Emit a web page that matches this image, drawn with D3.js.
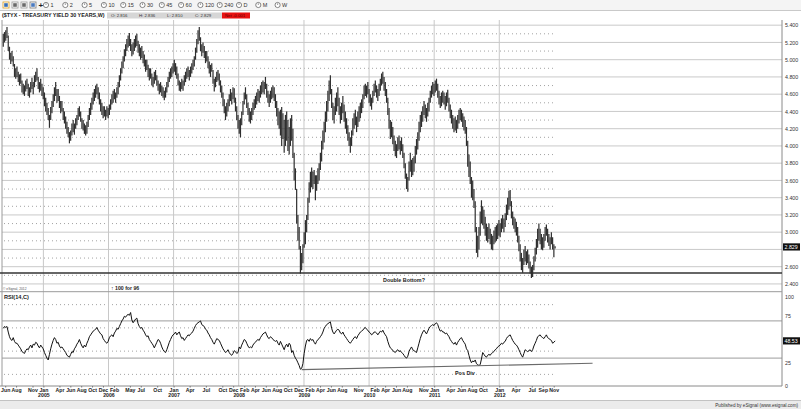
<!DOCTYPE html>
<html><head><meta charset="utf-8">
<script src="https://cdn.jsdelivr.net/npm/d3@7"></script>
<style>body{margin:0;background:#fff}svg{display:block}text{font-family:"Liberation Sans",Arial,sans-serif}</style>
</head><body><svg id="c" width="801" height="409"></svg>
<script>
// ---------------- DATA ----------------
const firstWeek = "2004-05-21";
const weekLow = [
5.15,5.20,5.22,5.25,5.10,5.00,4.95,4.98,4.92,4.80,
4.78,4.80,4.74,4.70,4.72,4.62,4.60,4.58,4.63,4.66,
4.58,4.56,4.62,4.66,4.60,4.68,4.74,4.76,4.66,4.62,
4.64,4.58,4.54,4.46,4.40,4.36,4.30,4.21,4.30,4.38,
4.45,4.52,4.58,4.50,4.52,4.44,4.38,4.40,4.30,4.26,
4.20,4.14,4.10,4.03,4.06,4.12,4.16,4.13,4.20,4.24,
4.30,4.34,4.28,4.20,4.18,4.14,4.12,4.14,4.22,4.30,
4.36,4.42,4.48,4.52,4.56,4.60,4.54,4.48,4.40,4.36,
4.32,4.34,4.30,4.34,4.32,4.36,4.42,4.48,4.50,4.54,
4.50,4.56,4.60,4.68,4.76,4.84,4.90,4.98,5.04,5.10,
5.14,5.16,5.10,5.04,5.06,5.10,5.14,5.16,5.08,5.04,
5.00,5.02,4.96,4.92,4.86,4.88,4.80,4.76,4.78,4.70,
4.68,4.72,4.76,4.70,4.64,4.60,4.62,4.58,4.56,4.53,
4.56,4.62,4.68,4.74,4.78,4.80,4.84,4.86,4.82,4.78,
4.70,4.64,4.63,4.66,4.64,4.70,4.74,4.78,4.80,4.76,
4.80,4.84,4.88,4.92,5.00,5.08,5.18,5.22,5.10,5.04,
5.08,5.02,4.96,4.98,4.90,4.84,4.80,4.86,4.72,4.63,
4.68,4.74,4.76,4.70,4.62,4.56,4.46,4.38,4.30,4.34,
4.40,4.46,4.52,4.48,4.54,4.50,4.40,4.30,4.20,4.14,
4.10,4.24,4.36,4.48,4.54,4.44,4.36,4.28,4.26,4.30,
4.36,4.42,4.44,4.48,4.52,4.50,4.56,4.60,4.62,4.60,
4.66,4.56,4.50,4.45,4.50,4.54,4.56,4.52,4.44,4.34,
4.24,4.20,4.12,4.00,4.08,3.92,4.00,4.06,3.94,3.90,
4.00,4.06,3.86,3.60,3.49,3.10,2.90,2.80,2.52,2.56,
2.64,2.82,2.86,3.00,3.14,3.34,3.46,3.52,3.50,3.56,
3.37,3.48,3.56,3.60,3.72,3.82,3.96,4.04,4.16,4.28,
4.40,4.52,4.60,4.44,4.30,4.26,4.36,4.40,4.46,4.36,
4.26,4.30,4.38,4.28,4.20,4.14,4.06,4.00,3.92,4.00,
4.12,4.20,4.24,4.16,4.22,4.28,4.32,4.38,4.44,4.54,
4.58,4.56,4.60,4.50,4.46,4.42,4.50,4.58,4.62,4.56,
4.52,4.58,4.64,4.70,4.72,4.64,4.58,4.50,4.36,4.20,
4.08,4.10,4.02,3.94,3.88,3.86,3.94,3.96,3.90,3.94,
3.86,3.74,3.62,3.50,3.47,3.60,3.70,3.64,3.66,3.70,
3.80,3.90,3.96,4.06,4.16,4.22,4.28,4.36,4.32,4.28,
4.34,4.40,4.50,4.56,4.60,4.58,4.62,4.64,4.56,4.48,
4.44,4.46,4.50,4.48,4.42,4.46,4.50,4.40,4.32,4.26,
4.20,4.16,4.18,4.15,4.20,4.26,4.30,4.28,4.22,4.18,
4.14,4.00,3.76,3.64,3.56,3.40,3.37,3.28,3.00,2.76,
2.71,2.80,2.96,3.10,3.08,3.04,2.96,2.90,2.88,2.92,
2.86,2.80,2.79,2.86,2.88,2.90,2.92,2.96,2.94,3.00,
3.04,3.00,3.06,3.14,3.20,3.26,3.30,3.16,3.08,3.04,
3.00,2.96,2.88,2.78,2.66,2.56,2.53,2.62,2.66,2.62,
2.64,2.58,2.52,2.47,2.48,2.56,2.66,2.74,2.82,2.90,
2.86,2.80,2.79,2.82,2.90,2.96,2.88,2.84,2.80,2.86,
2.80,2.71,2.81];
const weekHigh = [
5.30,5.32,5.34,5.38,5.28,5.15,5.08,5.10,5.04,4.95,
4.90,4.92,4.86,4.83,4.84,4.76,4.72,4.70,4.76,4.78,
4.72,4.68,4.74,4.79,4.74,4.82,4.86,4.90,4.80,4.74,
4.78,4.72,4.68,4.62,4.56,4.50,4.44,4.36,4.45,4.52,
4.60,4.68,4.74,4.66,4.66,4.58,4.52,4.52,4.44,4.40,
4.34,4.28,4.22,4.16,4.18,4.26,4.30,4.26,4.32,4.36,
4.44,4.46,4.40,4.32,4.30,4.26,4.24,4.28,4.36,4.44,
4.50,4.56,4.62,4.66,4.70,4.72,4.68,4.62,4.54,4.50,
4.46,4.46,4.42,4.46,4.44,4.48,4.54,4.60,4.64,4.66,
4.62,4.68,4.74,4.82,4.90,4.98,5.04,5.12,5.18,5.24,
5.28,5.31,5.24,5.18,5.20,5.24,5.28,5.30,5.22,5.18,
5.14,5.16,5.10,5.06,5.00,5.00,4.94,4.90,4.90,4.84,
4.80,4.86,4.88,4.82,4.76,4.72,4.74,4.70,4.68,4.64,
4.68,4.74,4.80,4.86,4.90,4.92,4.96,5.00,4.96,4.92,
4.84,4.76,4.74,4.78,4.76,4.82,4.86,4.90,4.92,4.88,
4.92,4.96,5.00,5.04,5.14,5.24,5.34,5.38,5.26,5.18,
5.20,5.16,5.10,5.10,5.04,4.98,4.94,4.96,4.88,4.78,
4.80,4.86,4.88,4.84,4.76,4.70,4.62,4.54,4.46,4.50,
4.54,4.60,4.66,4.62,4.68,4.67,4.56,4.46,4.36,4.30,
4.32,4.40,4.52,4.62,4.68,4.60,4.50,4.44,4.40,4.44,
4.50,4.54,4.58,4.62,4.66,4.64,4.70,4.74,4.76,4.74,
4.80,4.72,4.64,4.60,4.64,4.68,4.70,4.68,4.60,4.52,
4.44,4.40,4.42,4.45,4.38,4.30,4.36,4.40,4.30,4.22,
4.32,4.36,4.20,3.92,3.74,3.50,3.20,3.06,2.84,2.76,
2.86,3.00,3.14,3.20,3.40,3.58,3.70,3.75,3.70,3.72,
3.66,3.66,3.74,3.80,3.92,4.06,4.18,4.28,4.40,4.52,
4.64,4.76,4.82,4.66,4.50,4.46,4.56,4.62,4.68,4.56,
4.46,4.50,4.58,4.48,4.40,4.32,4.24,4.16,4.10,4.18,
4.32,4.38,4.42,4.34,4.40,4.46,4.50,4.54,4.60,4.70,
4.72,4.70,4.74,4.66,4.60,4.56,4.64,4.72,4.76,4.70,
4.66,4.72,4.78,4.84,4.86,4.80,4.74,4.66,4.56,4.44,
4.30,4.28,4.22,4.12,4.06,4.02,4.10,4.12,4.06,4.10,
4.02,3.92,3.80,3.68,3.64,3.82,3.92,3.84,3.86,3.88,
4.00,4.08,4.16,4.28,4.36,4.40,4.46,4.52,4.48,4.44,
4.50,4.56,4.64,4.70,4.74,4.72,4.76,4.78,4.72,4.64,
4.58,4.62,4.64,4.62,4.58,4.62,4.65,4.56,4.48,4.42,
4.36,4.32,4.34,4.30,4.36,4.42,4.44,4.42,4.38,4.34,
4.30,4.22,4.06,3.90,3.82,3.64,3.60,3.50,3.36,3.06,
2.96,3.06,3.24,3.37,3.30,3.26,3.18,3.10,3.06,3.10,
3.04,2.98,2.96,3.02,3.06,3.08,3.10,3.14,3.10,3.16,
3.20,3.16,3.22,3.32,3.40,3.48,3.49,3.36,3.24,3.18,
3.16,3.12,3.06,2.96,2.86,2.76,2.70,2.80,2.84,2.78,
2.80,2.74,2.66,2.60,2.62,2.72,2.82,2.92,3.04,3.10,
3.04,2.98,2.94,2.98,3.06,3.09,3.04,2.98,2.94,3.00,
2.94,2.86,2.836];
const rsiValues = [
62,64,63,64,58,53,50,49,52,48,
46,46,44,42,40,37,36,35,38,40,
39,42,44,41,45,44,47,46,43,41,
44,42,40,36,33,30,28,34,40,45,
49,52,50,46,47,43,41,42,40,38,
36,33,32,31,34,37,36,40,42,45,
47,50,46,43,41,44,42,46,49,53,
55,57,59,60,61,63,60,58,56,55,
51,49,47,46,48,52,54,55,53,57,
59,62,61,64,67,70,72,75,74,76,
77,76,79,71,68,70,72,73,67,64,
62,63,60,58,55,53,54,50,48,46,
44,41,44,47,50,49,46,42,39,37,
36,39,43,47,50,53,55,56,58,55,
57,58,54,51,52,49,51,53,55,54,
56,57,59,62,65,67,68,69,70,66,
65,64,61,60,57,55,52,50,47,45,
48,51,50,49,46,43,40,38,36,37,
39,36,34,33,35,38,37,35,36,42,
40,44,47,50,49,46,43,41,42,41,
44,46,47,49,50,49,52,54,56,57,
58,55,52,51,53,52,50,49,48,49,
46,44,48,45,42,39,43,45,42,46,
44,36,38,33,30,28,25,22,18,19,
24,35,43,49,50,48,51,49,50,47,
45,48,50,51,53,55,58,62,64,66,
67,68,69,62,58,56,58,60,61,60,
57,56,58,55,53,51,49,47,46,48,
50,52,53,51,54,56,58,59,60,62,
63,61,60,58,57,55,56,58,58,57,
55,57,59,58,60,57,55,53,48,44,
41,40,38,37,36,38,39,37,38,36,
35,33,31,30,32,37,40,42,39,38,
37,36,41,46,51,55,58,60,58,56,
59,62,64,65,66,65,67,68,66,62,
59,60,58,58,56,57,55,53,50,48,
46,45,47,44,47,49,51,52,49,47,
45,40,38,33,28,25,27,26,28,24,
23,22,23,29,36,34,32,31,33,34,
33,35,36,37,39,40,42,43,44,46,
45,47,48,51,53,54,55,52,49,47,
45,44,42,39,36,33,31,35,39,38,
37,38,39,37,39,43,46,49,53,54,
55,53,52,51,53,55,52,51,50,49,
46,47,48.53];
const priceTicks = [2.4,2.6,2.8,3.0,3.2,3.4,3.6,3.8,4.0,4.2,4.4,4.6,4.8,5.0,5.2,5.4];
const priceMinorTicks = [2.5,2.7,2.9,3.1,3.3,3.5,3.7,3.9,4.1,4.3,4.5,4.7,4.9,5.1,5.3];
const rsiTicks = [0,25,75,100];
const rsiBands = [30,70];
const rsiGrid = [12.5,37.5,62.5,87.5];
const monthLabels = [
["2004-06-01","Jun"],["2004-08-01","Aug"],["2004-11-01","Nov"],
["2005-01-01","Jan"],["2005-04-01","Apr"],["2005-06-01","Jun"],["2005-08-01","Aug"],["2005-10-01","Oct"],["2005-12-01","Dec"],
["2006-02-01","Feb"],["2006-05-01","May"],["2006-07-01","Jul"],["2006-10-01","Oct"],
["2007-01-01","Jan"],["2007-04-01","Apr"],["2007-07-01","Jul"],["2007-10-01","Oct"],["2007-12-01","Dec"],
["2008-02-01","Feb"],["2008-04-01","Apr"],["2008-06-01","Jun"],["2008-08-01","Aug"],["2008-10-01","Oct"],["2008-12-01","Dec"],
["2009-02-01","Feb"],["2009-04-01","Apr"],["2009-06-01","Jun"],["2009-08-01","Aug"],["2009-11-01","Nov"],
["2010-02-01","Feb"],["2010-04-01","Apr"],["2010-06-01","Jun"],["2010-08-01","Aug"],["2010-11-01","Nov"],
["2011-01-01","Jan"],["2011-04-01","Apr"],["2011-06-01","Jun"],["2011-08-01","Aug"],["2011-10-01","Oct"],
["2012-01-01","Jan"],["2012-04-01","Apr"],["2012-07-01","Jul"],["2012-09-01","Sep"],["2012-11-01","Nov"]];
const yearLabels = [["2005-01-01","2005"],["2006-01-01","2006"],["2007-01-01","2007"],["2008-01-01","2008"],
["2009-01-01","2009"],["2010-01-01","2010"],["2011-01-01","2011"],["2012-01-01","2012"]];
const supportLevel = 2.527;
const posDivLine = [["2008-12-19",17.6],["2013-06-07",24.5]];
const lastClose = 2.829;
const lastRsi = 48.53;
const toolbarItems = ["1","2","5","10","15","30","45","60","120","240","D","M","W"];
const titleText = "($TYX - TREASURY YIELD 30 YEARS,W)";
const ohlcText = ["O: 2.816","H: 2.836","L: 2.810","C: 2.829"];
const netText = "Net -0.001";

// ---------------- LAYOUT ----------------
const svg = d3.select("#c");
const L = 2, R = 782, pTop = 20, pBot = 291.7, rTop = 292.5, rBot = 386;
const parse = d3.timeParse("%Y-%m-%d");
const start = parse(firstWeek);
const dates = weekLow.map((_, i) => d3.timeDay.offset(start, 7 * i));
const lastDate = dates[dates.length - 1];
const x = d3.scaleTime().domain([parse("2004-05-14"), parse("2016-05-04")]).range([L, R]);
const yP = d3.scaleLinear().domain([2.31, 5.46]).range([pBot, pTop]);
const yR = d3.scaleLinear().domain([0, 100]).range([rBot, rTop + 0.5]);
const fmt3 = d3.format(".3f");
const F = '"Liberation Sans",Arial,sans-serif';

svg.append("rect").attr("width", 801).attr("height", 409).attr("fill", "#fff");

// toolbar
svg.append("rect").attr("x", 0).attr("y", 0).attr("width", 801).attr("height", 10).attr("fill", "#f4f4f4");
svg.append("line").attr("x1", 0).attr("x2", 801).attr("y1", 10.5).attr("y2", 10.5).attr("stroke", "#c9c9c9");
const iconCols = [["#3a6fb5","#e0a020"],["#6a6a6a","#9a9a9a"],["#6a6a6a","#9a9a9a"],["#4a7ac0","#7a7a7a"]];
iconCols.forEach((c, k) => {
  const g = svg.append("g").attr("transform", `translate(${3 + k * 9},2)`);
  g.append("rect").attr("width", 6).attr("height", 6).attr("fill", "#fff").attr("stroke", c[1]).attr("stroke-width", 0.8);
  g.append("rect").attr("x", 1.2).attr("y", 1.2).attr("width", 3.6).attr("height", 3.6).attr("fill", c[0]);
});
svg.append("text").attr("x", 38.5).attr("y", 8).attr("font-size", 8).attr("font-weight", "bold").attr("fill", "#222").text("+");
toolbarItems.forEach((t, k) => {
  const gx = 46 + k * 19.3;
  svg.append("circle").attr("cx", gx).attr("cy", 5).attr("r", 2.6).attr("fill", "#fff").attr("stroke", "#555").attr("stroke-width", 0.7);
  svg.append("line").attr("x1", gx).attr("x2", gx).attr("y1", 3.3).attr("y2", 5).attr("stroke", "#555").attr("stroke-width", 0.6);
  svg.append("text").attr("x", gx + 4.5).attr("y", 7).attr("font-size", 5.5).attr("fill", "#333").attr("font-family", F).text(t);
});

// title row
svg.append("text").attr("x", 2).attr("y", 17.3).attr("font-size", 5.4).attr("font-weight", "bold").attr("fill", "#222").text(titleText);
svg.append("rect").attr("x", 107).attr("y", 12.5).attr("width", 115).attr("height", 6).attr("fill", "#d6d6d6");
ohlcText.forEach((t, k) => svg.append("text").attr("x", 111 + k * 28).attr("y", 17.2).attr("font-size", 4.3).attr("fill", "#333").text(t));
svg.append("rect").attr("x", 222).attr("y", 12.5).attr("width", 28).attr("height", 6).attr("fill", "#e81212");
svg.append("text").attr("x", 225).attr("y", 17.2).attr("font-size", 4.3).attr("fill", "#5a0000").text(netText);

// ---------- grid ----------
const grid = svg.append("g");
grid.selectAll(".hmaj").data(priceTicks).join("line")
  .attr("x1", L).attr("x2", R).attr("y1", d => yP(d)).attr("y2", d => yP(d))
  .attr("stroke", "#c4c4c4").attr("stroke-width", 0.9);
grid.selectAll(".hmin").data(priceMinorTicks).join("line")
  .attr("x1", L + 2).attr("x2", x(lastDate)).attr("y1", d => yP(d)).attr("y2", d => yP(d))
  .attr("stroke", "#999").attr("stroke-width", 0.9).attr("stroke-dasharray", "1,3");
grid.selectAll(".rmin").data(rsiGrid).join("line")
  .attr("x1", L + 2).attr("x2", x(lastDate)).attr("y1", d => yR(d)).attr("y2", d => yR(d))
  .attr("stroke", "#999").attr("stroke-width", 0.9).attr("stroke-dasharray", "1,3");
grid.selectAll(".rband").data(rsiBands).join("line")
  .attr("x1", L).attr("x2", R).attr("y1", d => yR(d)).attr("y2", d => yR(d))
  .attr("stroke", "#9c9c9c").attr("stroke-width", 1);
grid.selectAll(".vyr").data(yearLabels).join("line")
  .attr("x1", d => x(parse(d[0]))).attr("x2", d => x(parse(d[0])))
  .attr("y1", pTop).attr("y2", rBot).attr("stroke", "#c8c8c8").attr("stroke-width", 1);

// panel frames
svg.append("line").attr("x1", L).attr("x2", L).attr("y1", pTop).attr("y2", rBot).attr("stroke", "#9a9a9a");
svg.append("line").attr("x1", R).attr("x2", R).attr("y1", pTop).attr("y2", rBot).attr("stroke", "#8a8a8a");
svg.append("line").attr("x1", 0).attr("x2", R).attr("y1", pBot).attr("y2", pBot).attr("stroke", "#9a9a9a").attr("stroke-width", 1);
svg.append("line").attr("x1", 0).attr("x2", R).attr("y1", rBot).attr("y2", rBot).attr("stroke", "#8a8a8a").attr("stroke-width", 1);

// support (double bottom) line
svg.append("line").attr("x1", 0).attr("x2", R).attr("y1", yP(supportLevel)).attr("y2", yP(supportLevel))
  .attr("stroke", "#333").attr("stroke-width", 1.6);

// price bars
svg.append("g").selectAll("line").data(dates).join("line")
  .attr("x1", d => x(d)).attr("x2", d => x(d))
  .attr("y1", (d, i) => yP(weekHigh[i])).attr("y2", (d, i) => yP(weekLow[i]))
  .attr("stroke", "#2e2e2e").attr("stroke-width", 1.2);

// RSI line
svg.append("path").datum(rsiValues)
  .attr("d", d3.line().x((d, i) => x(dates[i])).y(d => yR(d)))
  .attr("fill", "none").attr("stroke", "#111").attr("stroke-width", 1);
svg.append("path").datum(posDivLine)
  .attr("d", d3.line().x(d => x(parse(d[0]))).y(d => yR(d[1])))
  .attr("fill", "none").attr("stroke", "#6a6a6a").attr("stroke-width", 1.1);

// ---------- axes ----------
const boxY = yP(lastClose);
const pAxis = svg.append("g").attr("transform", `translate(${R},0)`)
  .call(d3.axisRight(yP).tickValues(priceTicks.filter(v => Math.abs(yP(v) - boxY) > 7))
    .tickSize(0).tickPadding(3).tickFormat(fmt3));
pAxis.select(".domain").remove();
pAxis.selectAll("text").attr("font-size", 5.3).attr("fill", "#333").attr("font-family", F);

const rAxis = svg.append("g").attr("transform", `translate(${R},0)`)
  .call(d3.axisRight(yR).tickValues(rsiTicks).tickSize(0).tickPadding(3).tickFormat(d3.format("d")));
rAxis.select(".domain").remove();
rAxis.selectAll("text").attr("font-size", 5.3).attr("fill", "#333").attr("font-family", F);
rAxis.selectAll(".tick").filter(d => d === 100).select("text").attr("dy", "1.1em");

function valueBox(yv, label) {
  svg.append("rect").attr("x", R + 1).attr("y", yv - 3.6).attr("width", 17).attr("height", 7.2).attr("fill", "#111");
  svg.append("text").attr("x", R + 2.5).attr("y", yv + 1.9).attr("font-size", 5.3).attr("fill", "#fff").attr("font-family", F).text(label);
}
valueBox(boxY, fmt3(lastClose));
valueBox(yR(lastRsi), d3.format(".2f")(lastRsi));

const mAxis = svg.append("g").attr("transform", `translate(0,${rBot})`)
  .call(d3.axisBottom(x).tickValues(monthLabels.map(d => parse(d[0]))).tickSize(1.5).tickPadding(1)
    .tickFormat((d, i) => monthLabels[i][1]));
mAxis.select(".domain").remove();
mAxis.selectAll("line").attr("stroke", "#777");
mAxis.selectAll("text").attr("font-size", 5.2).attr("fill", "#222").attr("font-weight", "bold").attr("font-family", F);
const yrAxis = svg.append("g").attr("transform", `translate(0,${rBot + 6})`)
  .call(d3.axisBottom(x).tickValues(yearLabels.map(d => parse(d[0]))).tickSize(0).tickPadding(1)
    .tickFormat((d, i) => yearLabels[i][1]));
yrAxis.select(".domain").remove();
yrAxis.selectAll("text").attr("font-size", 5.2).attr("fill", "#222").attr("font-weight", "bold").attr("font-family", F);

// annotations
svg.append("text").attr("x", 383).attr("y", 281.5).attr("font-size", 5.4).attr("font-weight", "bold").attr("fill", "#222").text("Double Bottom?");
svg.append("text").attr("x", 111).attr("y", 289.8).attr("font-size", 5.2).attr("font-weight", "bold").attr("fill", "#222").text("\u2191 100 for 96");
svg.append("text").attr("x", 3).attr("y", 289.5).attr("font-size", 3.3).attr("fill", "#555").text("\u00a9 eSignal, 2012");
svg.append("text").attr("x", 4).attr("y", 298.5).attr("font-size", 5.6).attr("font-weight", "bold").attr("fill", "#222").text("RSI(14,C)");
svg.append("text").attr("x", 455).attr("y", 375).attr("font-size", 5.4).attr("font-weight", "bold").attr("fill", "#222").text("Pos Div");

// footer
svg.append("rect").attr("x", 0).attr("y", 400.5).attr("width", 801).attr("height", 8.5).attr("fill", "#ebebeb");
svg.append("line").attr("x1", 0).attr("x2", 801).attr("y1", 400.5).attr("y2", 400.5).attr("stroke", "#c2c2c2");
svg.append("text").attr("x", 798).attr("y", 406.8).attr("text-anchor", "end").attr("font-size", 4.6).attr("fill", "#333")
  .text("Published by eSignal (www.esignal.com)");
</script></body></html>
